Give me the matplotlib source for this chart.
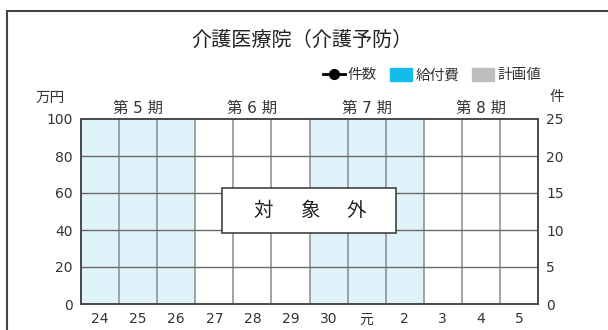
import numpy as np
import matplotlib.pyplot as plt
from matplotlib.lines import Line2D
from matplotlib.patches import Patch, Rectangle

plt.rcParams['font.family'] = ['DejaVu Sans', 'Noto Sans CJK JP']

# data
years = ["24", "25", "26", "27", "28", "29", "30", "元", "2", "3", "4", "5"]
periods = ["第 5 期", "第 6 期", "第 7 期", "第 8 期"]
shaded_periods = [0, 2]          # 第5期, 第7期
left_ticks = [0, 20, 40, 60, 80, 100]
right_ticks = [0, 5, 10, 15, 20, 25]
kyufuhi = []     # 給付費 (no data: 対象外)
keikaku = []     # 計画値
kensu = []       # 件数

fig = plt.figure(figsize=(6.08, 3.3), dpi=100)
ax = fig.add_axes([81 / 608, 1 - 304 / 330, 457 / 608, 185 / 330])
ax2 = ax.twinx()

x = np.arange(len(years))
ax.set_xlim(-0.5, len(years) - 0.5)
ax.set_ylim(0, 100)
ax2.set_ylim(0, 25)

for p in shaded_periods:
    ax.axvspan(p * 3 - 0.5, p * 3 + 2.5, color="#E0F2FA", zorder=0, lw=0)

for b in np.arange(0.5, len(years) - 0.5, 1):
    ax.axvline(b, color="#8a8a8a", lw=1.1, zorder=1)
for t in left_ticks[1:-1]:
    ax.axhline(t, color="#6a6a6a", lw=1.0, zorder=1)

ax.bar(x[:len(kyufuhi)], kyufuhi, color="#13BDEB")
ax.bar(x[:len(keikaku)], keikaku, color="#BDBDBD")
ax2.plot(x[:len(kensu)], kensu, color="black", marker="o")

ax.set_xticks(x)
ax.set_xticklabels(years, fontsize=10, color="#333333")
ax.set_yticks(left_ticks)
ax.set_yticklabels([str(t) for t in left_ticks], fontsize=10, color="#333333")
ax2.set_yticks(right_ticks)
ax2.set_yticklabels([str(t) for t in right_ticks], fontsize=10, color="#333333")
ax.tick_params(length=0, pad=6)
ax2.tick_params(length=0, pad=6)

for a in (ax, ax2):
    for s in a.spines.values():
        s.set_color("#444444")
        s.set_linewidth(1.1)

# period labels
for i, lab in enumerate(periods):
    ax.text(i * 3 + 1, 101.5, lab, ha="center", va="bottom", fontsize=11,
            color="#333333")

fig.text(50 / 608, 1 - 97 / 330, "万円", ha="center", va="center", fontsize=10.5,
         color="#333333")
fig.text(557 / 608, 1 - 97 / 330, "件", ha="center", va="center", fontsize=10.5,
         color="#333333")

# 対象外 box
ax.add_patch(Rectangle((3.2, 38.5), 4.57, 24.4, facecolor="white",
                       edgecolor="#333333", lw=1.1, zorder=5))
for dx, ch in zip([-1.23, 0, 1.23], ["対", "象", "外"]):
    ax.text(5.5 + dx, 50.7, ch, ha="center", va="center", fontsize=14,
            color="#222222", zorder=6)

fig.text(302 / 608, 1 - 40 / 330, "介護医療院（介護予防）", ha="center",
         va="center", fontsize=14.5, color="#222222")

handles = [Line2D([0], [0], color="black", lw=2, marker="o", markersize=7),
           Patch(color="#13BDEB"), Patch(color="#BDBDBD")]
fig.legend(handles, ["件数", "給付費", "計画値"], loc="center",
           bbox_to_anchor=(432 / 608, 1 - 75 / 330), ncol=3, frameon=False,
           fontsize=10.5, handlelength=1.5, handleheight=0.9,
           handletextpad=0.2, columnspacing=0.9, labelcolor="#333333")

# outer frame
fig.patches.append(Rectangle((7 / 608, -0.1), 1.2, 1.1 - 11 / 330,
                             transform=fig.transFigure, fill=False,
                             edgecolor="#444444", lw=1.5))

fig.savefig("out.png", dpi=100)
